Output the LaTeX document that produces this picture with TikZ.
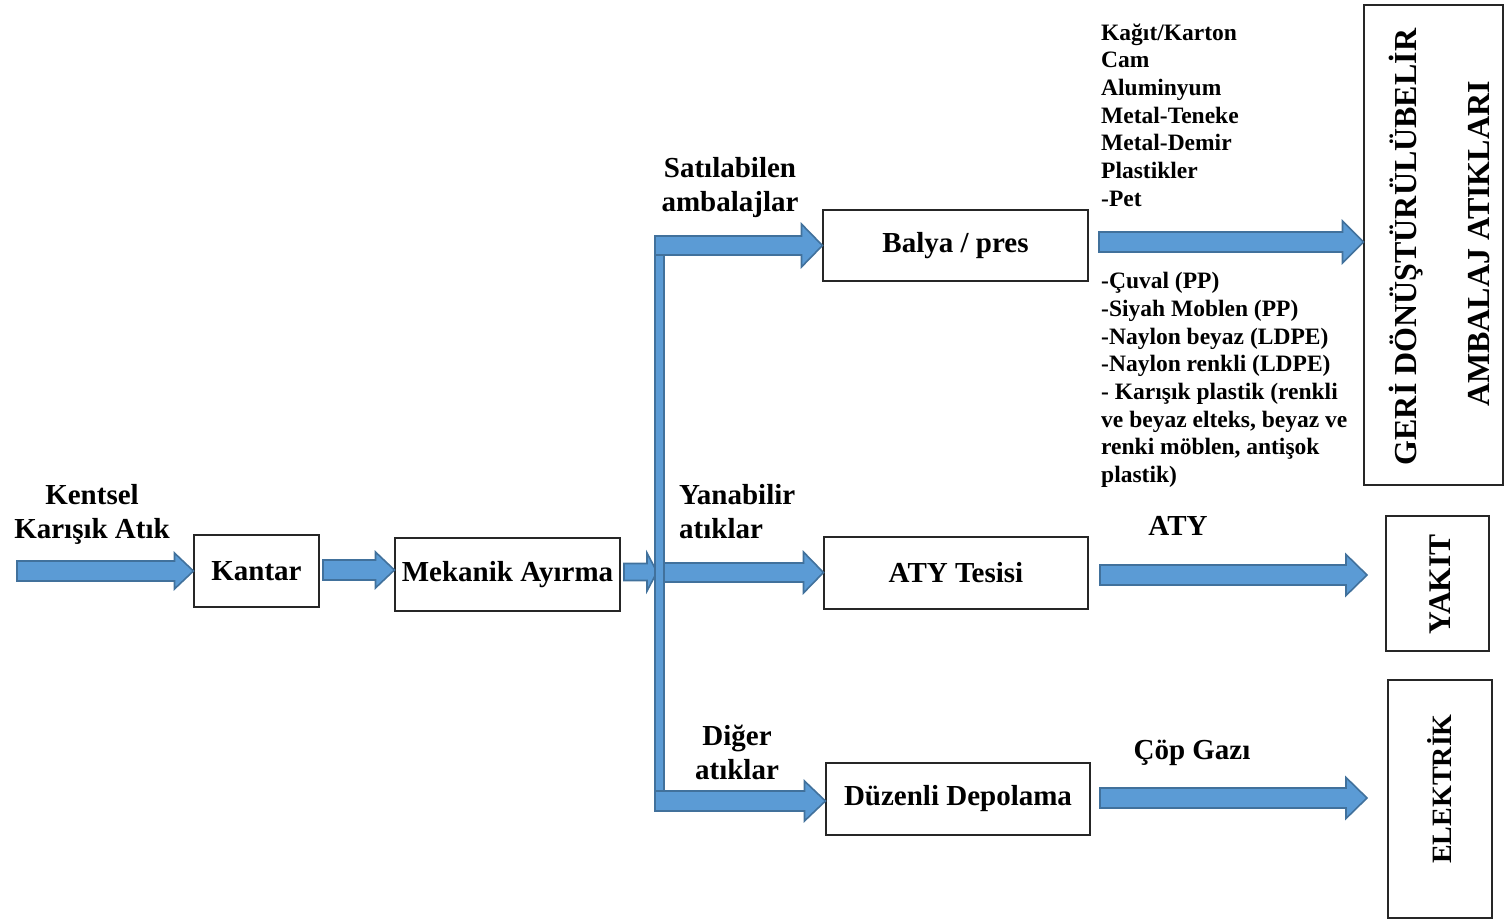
\documentclass[tikz,border=0pt]{standalone}
\usepackage{fontspec}
\setmainfont{Liberation Serif}
\usetikzlibrary{calc}
\definecolor{arrowfill}{HTML}{5B9BD5}
\definecolor{arrowline}{HTML}{41719C}
\definecolor{boxline}{HTML}{262626}

% Block arrow from #1 to the x of #2, on the height of #1:
% #3 half shaft width, #4 half head width, #5 head length (all in pt)
\newcommand\flowarrow[5]{%
  \draw[flow] let \p1=(#1), \p2=(#2) in
    (\x1,{\y1+#3pt}) -- ({\x2-#5pt},{\y1+#3pt}) -- ({\x2-#5pt},{\y1+#4pt}) -- (\x2,\y1)
    -- ({\x2-#5pt},{\y1-#4pt}) -- ({\x2-#5pt},{\y1-#3pt}) -- (\x1,{\y1-#3pt}) -- cycle;}

\begin{document}
\begin{tikzpicture}[x=1pt,y=-1pt,
  flow/.style={draw=arrowline, fill=arrowfill, line width=1.6pt, line join=miter},
  box/.style={draw=boxline, line width=1.1pt, fill=white, inner sep=0pt,
    font=\bfseries\fontsize{29}{34}\selectfont, align=center},
  lbl/.style={inner sep=0pt, font=\bfseries\fontsize{29}{34}\selectfont, align=center},
  lst/.style={inner sep=0pt, font=\bfseries\fontsize{23.5}{27.7}\selectfont, align=left},
  vlbl/.style={inner sep=0pt, rotate=90, font=\bfseries\fontsize{32}{38}\selectfont}]
\useasboundingbox (0,0) rectangle (1504,923);

% process boxes
\node[box, minimum width=125, minimum height=72] (kantar) at (256.5,571) {Kantar};
\node[box, minimum width=225, minimum height=73] (mek) at (507.5,574.5) {Mekanik Ayırma};
\node[box, minimum width=265, minimum height=71] (balya) at (955.5,245.5) {\raisebox{-2pt}{Balya / pres}};
\node[box, minimum width=264, minimum height=72] (aty) at (956,573) {ATY Tesisi};
\node[box, minimum width=264, minimum height=72] (dep) at (958,799) {\raisebox{-1pt}{Düzenli Depolama}};

% output boxes
\node[box, minimum width=139, minimum height=480] (geri) at (1433.5,245) {};
\node[box, minimum width=103, minimum height=135] (yakit) at (1437.5,583.5) {};
\node[box, minimum width=104, minimum height=238] (elek) at (1440,799) {};
\node[vlbl] (geri1) at (1406,247) {GERİ DÖNÜŞTÜRÜLÜBELİR};
\node[vlbl] (geri2) at (1479,244) {AMBALAJ ATIKLARI};
\node[vlbl, font=\bfseries\fontsize{31.5}{38}\selectfont] (yakitl) at (1440.5,584.5) {YAKIT};
\node[vlbl, font=\bfseries\fontsize{28}{34}\selectfont] (elekl) at (1439,789) {ELEKTRİK};

% arrow end points
\coordinate (src) at (17,571);
\coordinate (k1) at (323,570);
\coordinate (m1) at (624,572);
\coordinate (m2) at (657,572);
\coordinate (b1) at (655,245.5);
\coordinate (b2) at (657,572.5);
\coordinate (b3) at (655,801);
\coordinate (barTop) at (655,245.5);
\coordinate (barBot) at (664,801);
\coordinate (r1) at (1099,242);
\coordinate (r2) at (1100,575);
\coordinate (r3) at (1100,798);
\coordinate (yakitIn) at (1367,575);
\coordinate (elekIn) at (1367,798);

% main line
\flowarrow{src}{kantar.west}{10}{18}{19}
\flowarrow{k1}{mek.west}{10}{18}{19}
\flowarrow{m1}{m2}{8.5}{19}{10}
\flowarrow{b2}{aty.west}{9.5}{20.5}{20}
\draw[flow] (barTop) rectangle (barBot);
\flowarrow{b1}{balya.west}{9.5}{21.5}{21}
\flowarrow{b3}{dep.west}{10}{20}{21}

% outputs
\flowarrow{r1}{geri.west}{10}{21}{21}
\flowarrow{r2}{yakitIn}{10}{20.5}{21}
\flowarrow{r3}{elekIn}{10}{20.5}{21}

% labels
\node[lbl] (inlbl) at (92,514) {Kentsel\\Karışık Atık};
\node[lbl] (satlbl) at (730,188) {Satılabilen\\ambalajlar};
\node[lbl, anchor=west, align=left] (yanlbl) at (679,512) {Yanabilir\\atıklar};
\node[lbl] (diglbl) at (737,752) {Diğer\\atıklar};
\node[lbl] (atylbl) at (1178,526) {ATY};
\node[lbl] (gazlbl) at (1192,753) {Çöp Gazı};

\node[lst, anchor=west] (list1) at (1101,115)
  {Kağıt/Karton\\Cam\\Aluminyum\\Metal-Teneke\\Metal-Demir\\Plastikler\\-Pet};
\node[lst, anchor=west] (list2) at (1101,380)
  {-Çuval (PP)\\-Siyah Moblen (PP)\\-Naylon beyaz (LDPE)\\-Naylon renkli (LDPE)\\- Karışık plastik (renkli\\ve beyaz elteks, beyaz ve\\renki möblen, antişok\\plastik)};
\end{tikzpicture}
\end{document}
